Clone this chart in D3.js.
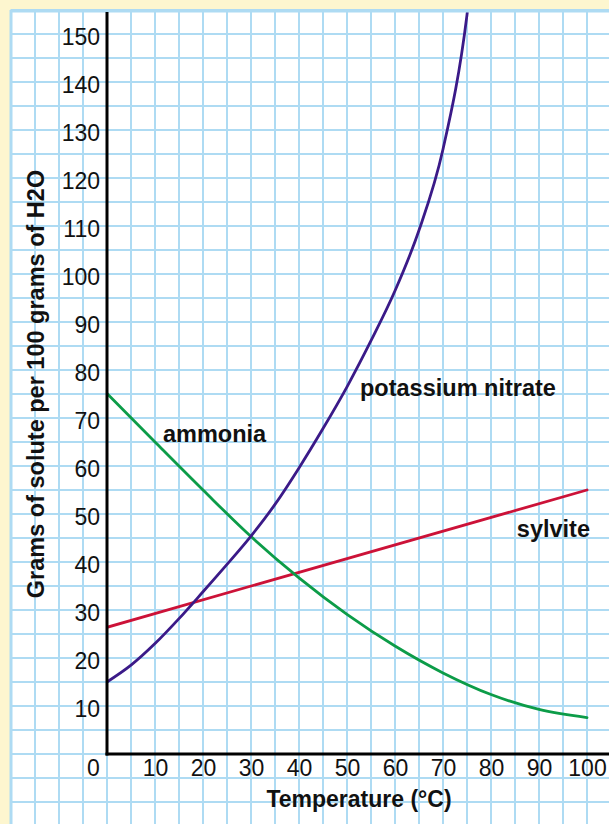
<!DOCTYPE html>
<html>
<head>
<meta charset="utf-8">
<script src="https://cdn.jsdelivr.net/npm/d3@7"></script>
<style>
  body { margin: 0; background: #fdf6cf; }
  svg { display: block; }
  text { font-family: "Liberation Sans", Arial, Helvetica, sans-serif; fill: #111; }
</style>
</head>
<body>
<svg id="chart" width="609" height="824"></svg>
<script>
// ---- data ----
const xTicks = [0, 10, 20, 30, 40, 50, 60, 70, 80, 90, 100];
const yTicks = [10, 20, 30, 40, 50, 60, 70, 80, 90, 100, 110, 120, 130, 140, 150];

const kno3Temps  = [0, 5, 10, 15, 20, 25, 30, 35, 40, 45, 50, 55, 60, 65, 70, 75, 77];
const kno3Values = [15, 18.5, 23, 28.2, 33.8, 39.5, 45.4, 52, 59.6, 67.8, 76.5, 86.1, 96.5, 109.1, 126, 154, 172];

const ammoniaTemps  = [0, 10, 20, 30, 40, 50, 60, 70, 80, 90, 100];
const ammoniaValues = [75.1, 65, 55, 45.3, 36.7, 29.1, 22.5, 16.9, 12.4, 9.3, 7.6];

const sylviteTemps  = [0, 100];
const sylviteValues = [26.4, 55.0];

const seriesNames = ["potassium nitrate", "ammonia", "sylvite"];

// ---- layout ----
const W = 609, H = 824;
const svg = d3.select("#chart");
const x = d3.scaleLinear().domain([0, 100]).range([107, 587]);
const y = d3.scaleLinear().domain([0, 150]).range([754, 34]);

// background + paper
svg.append("rect").attr("x", 0).attr("y", 0).attr("width", W).attr("height", H).attr("fill", "#fdf6cf");
svg.append("rect").attr("x", 11).attr("y", 11).attr("width", W - 11).attr("height", H - 11).attr("fill", "#ffffff");

const gridColor = "#aedbf3";
const grid = svg.append("g");
d3.range(-15, 106, 5).forEach(v => {
  grid.append("line").attr("x1", x(v)).attr("x2", x(v)).attr("y1", 11).attr("y2", H)
    .attr("stroke", gridColor).attr("stroke-width", 2);
});
d3.range(-15, 156, 5).forEach(v => {
  grid.append("line").attr("x1", 11).attr("x2", W).attr("y1", y(v)).attr("y2", y(v))
    .attr("stroke", gridColor).attr("stroke-width", 2);
});
// paper border (top/left)
grid.append("line").attr("x1", 11).attr("x2", 11).attr("y1", 10).attr("y2", H).attr("stroke", gridColor).attr("stroke-width", 3);
grid.append("line").attr("x1", 10).attr("x2", W).attr("y1", 11).attr("y2", 11).attr("stroke", gridColor).attr("stroke-width", 3);

// clip for curves
svg.append("clipPath").attr("id", "plotclip")
  .append("rect").attr("x", 107).attr("y", 12.5).attr("width", W - 107).attr("height", 754 - 12.5);

const line = d3.line().x(d => x(d[0])).y(d => y(d[1])).curve(d3.curveMonotoneX);
const curves = svg.append("g").attr("clip-path", "url(#plotclip)");

function addSeries(temps, vals, color) {
  curves.append("path")
    .datum(temps.map((t, i) => [t, vals[i]]))
    .attr("d", line)
    .attr("fill", "none")
    .attr("stroke", color)
    .attr("stroke-width", 2.8)
    .attr("stroke-linejoin", "round")
    .attr("stroke-linecap", "round");
}
addSeries(sylviteTemps, sylviteValues, "#cc1238");
addSeries(ammoniaTemps, ammoniaValues, "#0c9c48");
addSeries(kno3Temps, kno3Values, "#3b1a88");

// axes
const yAxis = d3.axisLeft(y).tickValues(yTicks).tickSize(0).tickPadding(7).tickFormat(d3.format("d"));
const gy = svg.append("g").attr("transform", "translate(107,0)").call(yAxis);
gy.select(".domain").remove();
gy.selectAll("text").attr("font-size", 23).attr("dy", "0.45em")
  .style("font-family", "'Liberation Sans', Arial, sans-serif").attr("fill", "#111");

const xAxis = d3.axisBottom(x).tickValues(xTicks).tickSize(0).tickPadding(6).tickFormat(d3.format("d"));
const gx = svg.append("g").attr("transform", "translate(0,754)").call(xAxis);
gx.select(".domain").remove();
gx.selectAll("text").attr("font-size", 23)
  .style("font-family", "'Liberation Sans', Arial, sans-serif").attr("fill", "#111")
  .attr("dx", d => d === 0 ? -14 : 0);

// axis lines
svg.append("line").attr("x1", 107).attr("x2", 107).attr("y1", 12).attr("y2", 755.5)
  .attr("stroke", "#000").attr("stroke-width", 3);
svg.append("line").attr("x1", 105.5).attr("x2", W).attr("y1", 754).attr("y2", 754)
  .attr("stroke", "#000").attr("stroke-width", 3);

// axis titles
svg.append("text").attr("x", 359).attr("y", 807).attr("text-anchor", "middle")
  .attr("font-size", 23).attr("font-weight", "bold").text("Temperature (°C)");
svg.append("text").attr("transform", "translate(44,384) rotate(-90)").attr("text-anchor", "middle")
  .attr("font-size", 23.5).attr("font-weight", "bold").text("Grams of solute per 100 grams of H2O");

// series labels
svg.append("text").attr("x", 360).attr("y", 396).attr("font-size", 23.5).attr("font-weight", "bold").text(seriesNames[0]);
svg.append("text").attr("x", 163).attr("y", 442).attr("font-size", 23.5).attr("font-weight", "bold").text(seriesNames[1]);
svg.append("text").attr("x", 590).attr("y", 537).attr("text-anchor", "end").attr("font-size", 23.5).attr("font-weight", "bold").text(seriesNames[2]);
</script>
</body>
</html>
